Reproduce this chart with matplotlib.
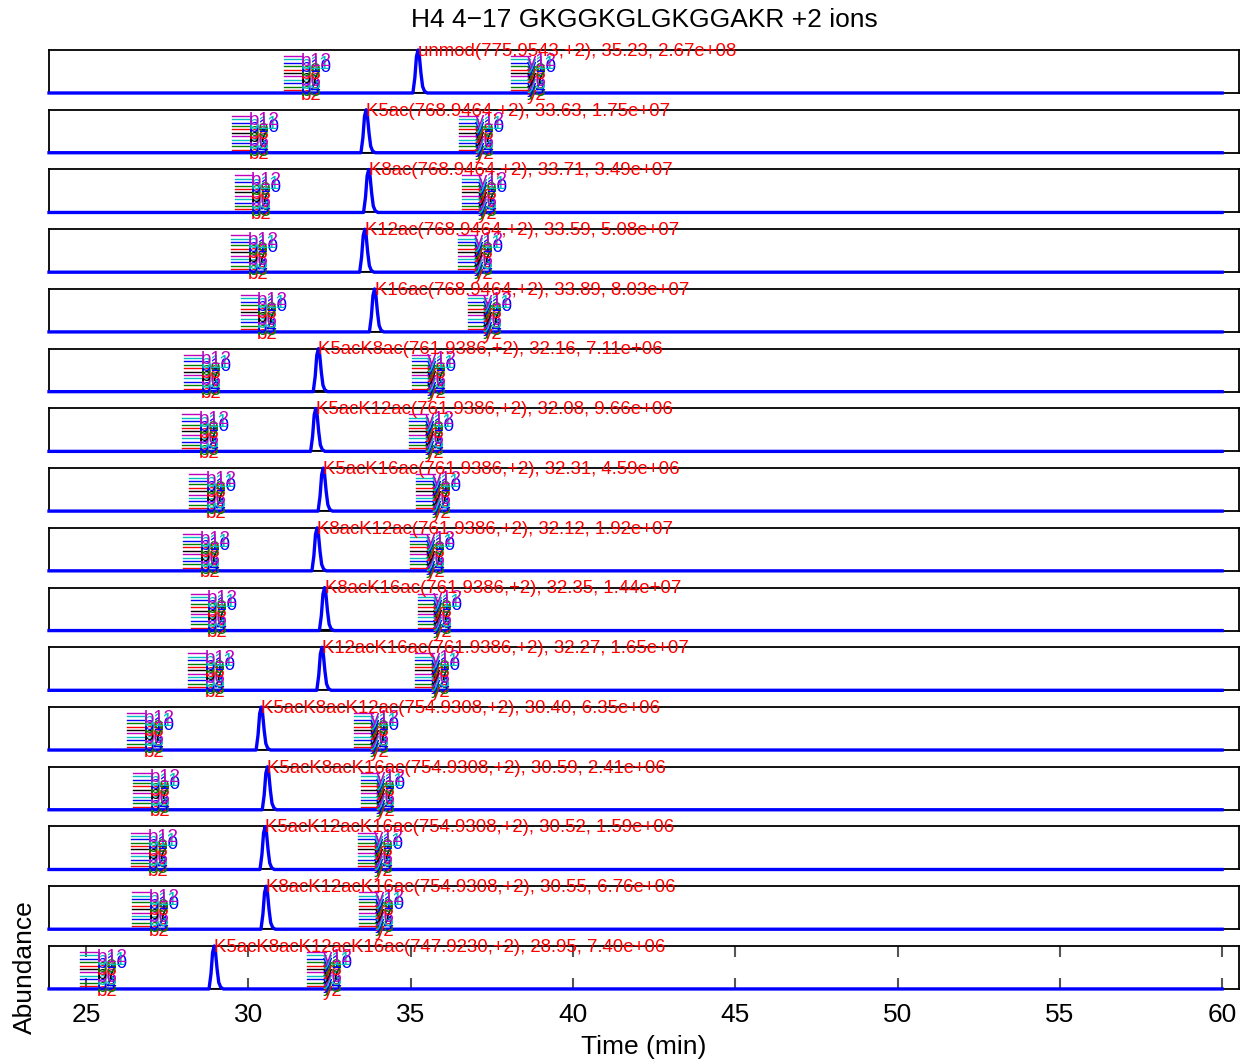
import matplotlib
matplotlib.use("Agg")
import matplotlib.pyplot as plt

plt.rcParams['font.family'] = ['Liberation Sans', 'DejaVu Sans']

title = "H4 4\u221217 GKGGKGLGKGGAKR +2 ions"
peptides = ["unmod", "K5ac", "K8ac", "K12ac", "K16ac",
            "K5acK8ac", "K5acK12ac", "K5acK16ac", "K8acK12ac", "K8acK16ac", "K12acK16ac",
            "K5acK8acK12ac", "K5acK8acK16ac", "K5acK12acK16ac", "K8acK12acK16ac",
            "K5acK8acK12acK16ac"]
mz = ["775.9543", "768.9464", "768.9464", "768.9464", "768.9464",
      "761.9386", "761.9386", "761.9386", "761.9386", "761.9386", "761.9386",
      "754.9308", "754.9308", "754.9308", "754.9308", "747.9230"]
rt = [35.23, 33.63, 33.71, 33.59, 33.89,
      32.16, 32.08, 32.31, 32.12, 32.35, 32.27,
      30.40, 30.59, 30.52, 30.55, 28.95]
area = ["2.67e+08", "1.75e+07", "3.49e+07", "5.08e+07", "8.03e+07",
        "7.11e+06", "9.66e+06", "4.59e+06", "1.92e+07", "1.44e+07", "1.65e+07",
        "6.35e+06", "2.41e+06", "1.59e+06", "6.76e+06", "7.40e+06"]

# peak profile (offset from RT in min, relative intensity)
peak_offsets = [-0.16, -0.10, -0.05, 0.0, 0.04, 0.09, 0.14, 0.20, 0.28]
peak_heights = [0.0, 0.35, 0.85, 1.0, 0.85, 0.45, 0.15, 0.04, 0.0]

b_ions = ["b2", "b3", "b4", "b5", "b6", "b7", "b8", "b9", "b10", "b11", "b12"]
y_ions = ["y2", "y3", "y4", "y5", "y6", "y7", "y8", "y9", "y10", "y11", "y12"]
ion_colors = ["r", "g", "b", "c", "m", "k"]

xticks = [25, 30, 35, 40, 45, 50, 55, 60]
t_start, t_end = 23.86, 60.0
xlim = (23.86, 60.52)

W, H = 1247, 1061
fig = plt.figure(figsize=(W / 100, H / 100), dpi=100)

left_px, right_px = 49, 1239
top0, step, ph = 50, 59.73, 43
n = len(peptides)
lab_fs = 13.4
for i in range(n):
    top = top0 + i * step
    ax = fig.add_axes([left_px / W, 1 - (top + ph) / H, (right_px - left_px) / W, ph / H])
    r = rt[i]
    xs = [t_start] + [r + o for o in peak_offsets] + [t_end]
    ys = [0.0] + peak_heights + [0.0]
    ax.plot([r + peak_offsets[0], r + peak_offsets[-1]], [0.004, 0.004], color='k', lw=1.5, zorder=3)
    ax.plot(xs, ys, color='#0000ff', lw=2.4, zorder=4, clip_on=False)
    ax.text(r, 0.97, f"{peptides[i]}({mz[i]},+2), {r:.2f}, {area[i]}",
            color='#ff0000', fontsize=lab_fs, ha='left', va='center', zorder=6, clip_on=False)
    # ion label clusters
    nb = len(b_ions)
    for k in range(nb):
        yl = 0.07 + k * (0.79 / (nb - 1))
        c = ion_colors[k % len(ion_colors)]
        ax.plot([r - 4.13, r - 3.57], [yl, yl], color=c, lw=1.0, zorder=2, clip_on=False)
        ax.text(r - 3.62, yl - 0.12, b_ions[k], color=c, fontsize=lab_fs, ha='left', va='center',
                zorder=5, clip_on=False)
    ny = len(y_ions)
    for k in range(ny):
        yl = 0.07 + k * (0.79 / (ny - 1))
        c = ion_colors[k % len(ion_colors)]
        ax.plot([r + 2.87, r + 3.45], [yl, yl], color=c, lw=1.0, zorder=2, clip_on=False)
        ax.text(r + 3.35, yl - 0.12, y_ions[k], color=c, fontsize=lab_fs, ha='left', va='center',
                zorder=5, clip_on=False)
    ax.set_xlim(*xlim)
    ax.set_ylim(0, 1)
    ax.set_yticks([])
    for s in ax.spines.values():
        s.set_linewidth(1.3)
        s.set_color('k')
    if i < n - 1:
        ax.set_xticks([])
    else:
        ax.set_xticks(xticks)
        ax.set_xticklabels([str(v) for v in xticks], fontsize=19)
        ax.tick_params(axis='x', direction='in', length=8, width=1.5, color='#555555',
                       top=True, bottom=True, pad=10)
        ax.set_xlabel("Time (min)", fontsize=19, labelpad=6)
        ax.set_ylabel("Abundance", fontsize=19, labelpad=9)

fig.text(0.5 * (left_px + right_px) / W, 1 - 20 / H, title, ha='center', va='center', fontsize=19)

fig.savefig("out.png", dpi=100, facecolor='white')
